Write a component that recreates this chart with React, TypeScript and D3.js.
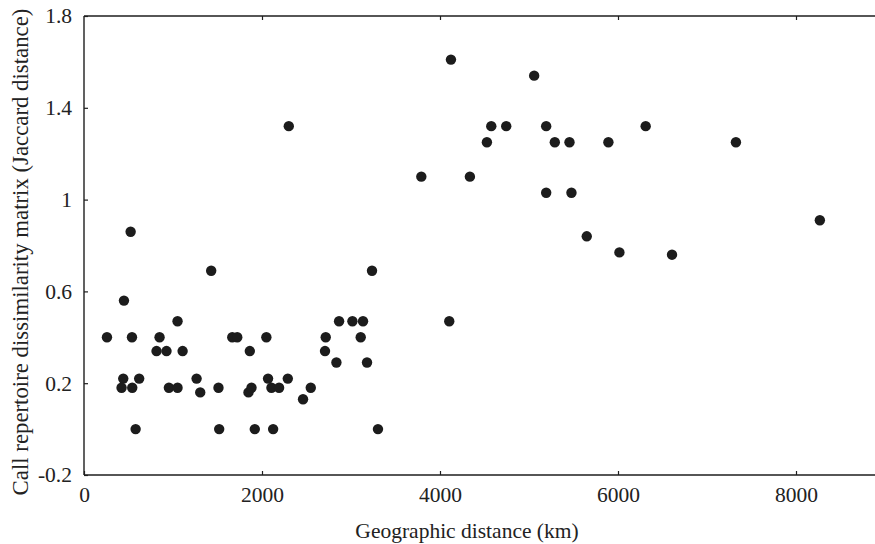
import React, {useEffect, useRef} from "react";
import * as d3 from "d3";

// geographic distance (km) and call repertoire dissimilarity (Jaccard)
const distanceKm: number[] = [
    258, 449, 539, 524, 441, 422, 542, 620, 580,
    849, 815, 927, 1051, 1108, 954, 1051,
    1265, 1306, 1429, 1511, 1519, 1666, 1722,
    1863, 1848, 1882, 1919, 2049, 2068, 2106, 2192, 2125, 2290, 2301,
    2461, 2548, 2716, 2708, 2836, 2866, 3016, 3135, 3109, 3180, 3236, 3303,
    3790, 4104, 4123, 4336, 4527, 4576, 4744, 5058, 5193, 5193, 5290,
    5455, 5477, 5649, 5892, 6016, 6311, 6607, 7325, 8268
];
const dissimilarity: number[] = [
    0.40, 0.56, 0.40, 0.86, 0.22, 0.18, 0.18, 0.22, 0.00,
    0.40, 0.34, 0.34, 0.47, 0.34, 0.18, 0.18,
    0.22, 0.16, 0.69, 0.18, 0.00, 0.40, 0.40,
    0.34, 0.16, 0.18, 0.00, 0.40, 0.22, 0.18, 0.18, 0.00, 0.22, 1.32,
    0.13, 0.18, 0.40, 0.34, 0.29, 0.47, 0.47, 0.47, 0.40, 0.29, 0.69, 0.00,
    1.10, 0.47, 1.61, 1.10, 1.25, 1.32, 1.32, 1.54, 1.32, 1.03, 1.25,
    1.25, 1.03, 0.84, 1.25, 0.77, 1.32, 0.76, 1.25, 0.91
];
const xTicks: number[] = [0, 2000, 4000, 6000, 8000];
const yTicks: string[] = ["-0.2", "0.2", "0.6", "1", "1.4", "1.8"];

const W = 875;
const H = 544;
const font = "'Liberation Serif', 'Times New Roman', serif";

const App = () => {
    const ref = useRef<SVGSVGElement>(null);

    useEffect(() => {
        const svg = d3.select(ref.current);
        svg.selectAll("*").remove();

        const x = d3.scaleLinear().domain([0, 9000]).range([84, 885]);
        const y = d3.scaleLinear().domain([-0.2, 1.8]).range([475, 16]);

        const points = distanceKm.map((d, i) => ({x: d, y: dissimilarity[i]}));

        // frame lines
        const axisCol = "#1e1e1e";
        svg.append("line")
            .attr("x1", x(0)).attr("x2", W).attr("y1", y(-0.2)).attr("y2", y(-0.2))
            .attr("stroke", axisCol).attr("stroke-width", 1.6);
        svg.append("line")
            .attr("x1", x(0)).attr("x2", W).attr("y1", y(1.8)).attr("y2", y(1.8))
            .attr("stroke", axisCol).attr("stroke-width", 1.3);
        svg.append("line")
            .attr("x1", x(0)).attr("x2", x(0)).attr("y1", y(1.8)).attr("y2", y(-0.2))
            .attr("stroke", axisCol).attr("stroke-width", 1.4);

        // inward ticks
        const bottom = svg.append("g").attr("transform", `translate(0,${y(-0.2)})`)
            .call(d3.axisBottom(x).tickValues(xTicks).tickSizeInner(-4).tickSizeOuter(0).tickPadding(12)
                .tickFormat(d => String(d)));
        const top = svg.append("g").attr("transform", `translate(0,${y(1.8)})`)
            .call(d3.axisTop(x).tickValues(xTicks.slice(1)).tickSizeInner(-4).tickSizeOuter(0)
                .tickFormat(() => ""));
        const left = svg.append("g").attr("transform", `translate(${x(0)},0)`)
            .call(d3.axisLeft(y).tickValues(yTicks.map(Number)).tickSizeInner(-4).tickSizeOuter(0).tickPadding(12)
                .tickFormat((d, i) => yTicks[i]));

        [bottom, top, left].forEach(g => {
            g.select(".domain").remove();
            g.selectAll(".tick line").attr("stroke", axisCol).attr("stroke-width", 1.2);
            g.selectAll(".tick text")
                .attr("font-family", font)
                .attr("font-size", 21.5)
                .attr("fill", "#222");
        });

        // dots
        svg.append("g").selectAll("circle").data(points).join("circle")
            .attr("cx", d => x(d.x))
            .attr("cy", d => y(d.y))
            .attr("r", 5.2)
            .attr("fill", "#1c1c1c");

        svg.append("text")
            .attr("x", 467).attr("y", 538)
            .attr("text-anchor", "middle")
            .attr("font-family", font).attr("font-size", 21.5).attr("fill", "#222")
            .text("Geographic distance (km)");

        svg.append("text")
            .attr("transform", "translate(28,252) rotate(-90)")
            .attr("text-anchor", "middle")
            .attr("font-family", font).attr("font-size", 22.8).attr("fill", "#222")
            .text("Call repertoire dissimilarity matrix (Jaccard distance)");
    }, []);

    return (
        <svg ref={ref} width={W} height={H} viewBox={`0 0 ${W} ${H}`}
             style={{position: "absolute", left: 0, top: 0, background: "#fff"}}/>
    );
};

export default App;
